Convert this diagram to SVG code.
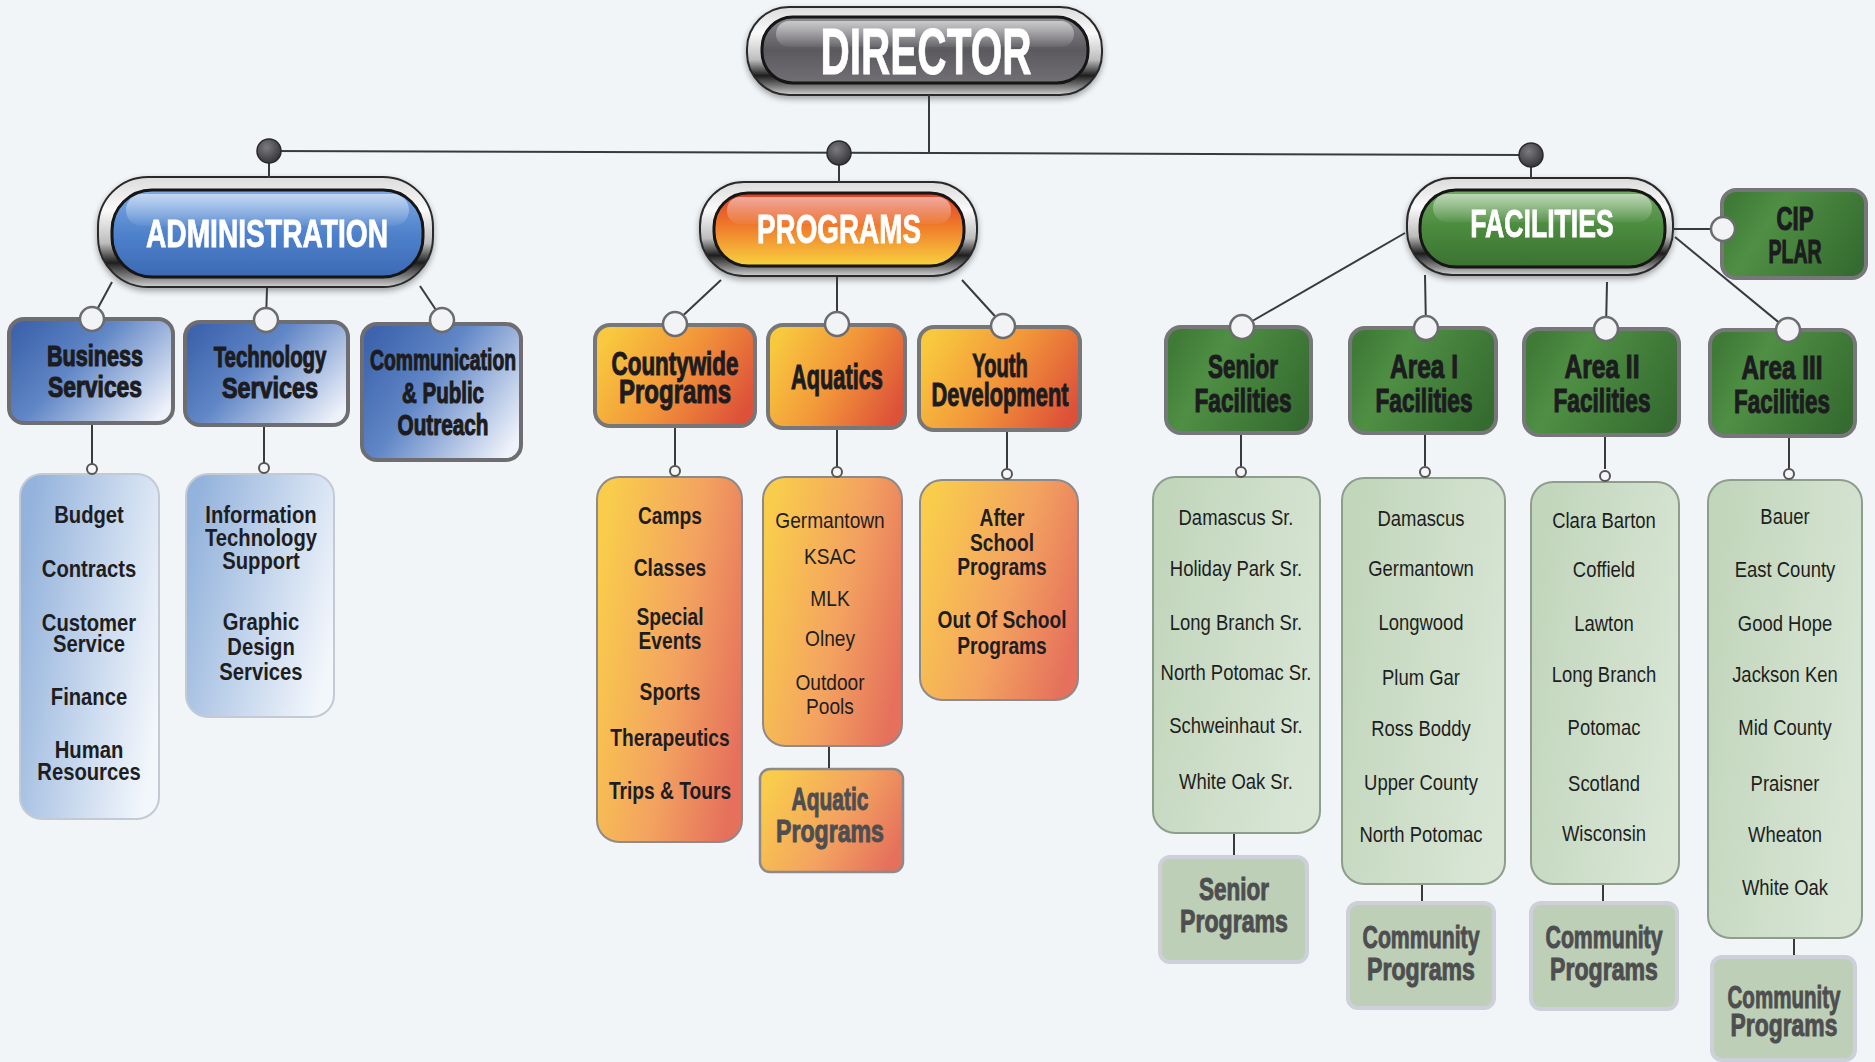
<svg xmlns="http://www.w3.org/2000/svg" width="1875" height="1062" viewBox="0 0 1875 1062">
<defs>
<linearGradient id="chrome" x1="0" y1="0" x2="0" y2="1">
<stop offset="0" stop-color="#dcdcdc"/><stop offset="0.3" stop-color="#fafafa"/><stop offset="0.6" stop-color="#bdbdbd"/><stop offset="0.78" stop-color="#1e1e1e"/><stop offset="0.92" stop-color="#8a8a8a"/><stop offset="1" stop-color="#d2d2d2"/>
</linearGradient>
<linearGradient id="gDir" x1="0" y1="0" x2="0" y2="1">
<stop offset="0" stop-color="#8e8c91"/><stop offset="0.5" stop-color="#5b595e"/><stop offset="1" stop-color="#727075"/>
</linearGradient>
<linearGradient id="gAdm" x1="0" y1="0" x2="0" y2="1">
<stop offset="0" stop-color="#7eaae4"/><stop offset="0.5" stop-color="#4f82cc"/><stop offset="1" stop-color="#3b69b2"/>
</linearGradient>
<linearGradient id="gPrg" x1="0" y1="0" x2="0" y2="1">
<stop offset="0" stop-color="#de3f28"/><stop offset="0.45" stop-color="#ef7a2c"/><stop offset="1" stop-color="#f8d23e"/>
</linearGradient>
<linearGradient id="gFac" x1="0" y1="0" x2="0" y2="1">
<stop offset="0" stop-color="#6ea860"/><stop offset="0.5" stop-color="#4a8a3d"/><stop offset="1" stop-color="#3b7232"/>
</linearGradient>
<linearGradient id="gloss" x1="0" y1="0" x2="0" y2="1">
<stop offset="0" stop-color="#ffffff" stop-opacity="0.55"/><stop offset="1" stop-color="#ffffff" stop-opacity="0.05"/>
</linearGradient>
<linearGradient id="bHead" x1="0" y1="0.2" x2="1" y2="0.8">
<stop offset="0" stop-color="#3d64ad"/><stop offset="0.4" stop-color="#6086c6"/><stop offset="1" stop-color="#eef2fa"/>
</linearGradient>
<linearGradient id="bList" x1="0" y1="0.3" x2="1" y2="0.7">
<stop offset="0" stop-color="#94b3dc"/><stop offset="1" stop-color="#f3f7fc"/>
</linearGradient>
<linearGradient id="oHead" x1="0" y1="0.3" x2="1" y2="0.7">
<stop offset="0" stop-color="#f8c93e"/><stop offset="0.5" stop-color="#f2953a"/><stop offset="1" stop-color="#dd5139"/>
</linearGradient>
<linearGradient id="oList" x1="0" y1="0.3" x2="1" y2="0.7">
<stop offset="0" stop-color="#f9cc4c"/><stop offset="0.55" stop-color="#f3a260"/><stop offset="1" stop-color="#e5705c"/>
</linearGradient>
<linearGradient id="gHead" x1="0" y1="0.3" x2="1" y2="0.7">
<stop offset="0" stop-color="#3f7b37"/><stop offset="0.3" stop-color="#4f8f44"/><stop offset="1" stop-color="#356b30"/>
</linearGradient>
<linearGradient id="gList" x1="0" y1="0.3" x2="1" y2="0.7">
<stop offset="0" stop-color="#c2d6bc"/><stop offset="1" stop-color="#d9e6d6"/>
</linearGradient>
<radialGradient id="dot" cx="0.4" cy="0.35" r="0.7">
<stop offset="0" stop-color="#7a7a80"/><stop offset="1" stop-color="#333336"/>
</radialGradient>
<filter id="sh" x="-10%" y="-10%" width="120%" height="130%">
<feGaussianBlur in="SourceAlpha" stdDeviation="3"/><feOffset dx="0" dy="3"/><feComponentTransfer><feFuncA type="linear" slope="0.35"/></feComponentTransfer><feMerge><feMergeNode/><feMergeNode in="SourceGraphic"/></feMerge>
</filter>
</defs>
<style>
.chrome{fill:url(#chrome);stroke:#2a2a2a;stroke-width:2}
.inner{stroke:#141414;stroke-width:3}
.ptxt{font-family:"Liberation Sans",Arial,sans-serif;font-weight:bold;fill:#ffffff;stroke:#ffffff;stroke-width:0.8;text-anchor:middle}
.hdr{font-family:"Liberation Sans",Arial,sans-serif;font-weight:bold;fill:#1c1c20;stroke:#1c1c20;stroke-width:1.1;text-anchor:middle}
.ghdr{font-family:"Liberation Sans",Arial,sans-serif;font-weight:bold;fill:#4e4e50;stroke:#4e4e50;stroke-width:1;text-anchor:middle}
.lb{font-family:"Liberation Sans",Arial,sans-serif;font-weight:bold;fill:#1e1e22;text-anchor:middle}
.ln{font-family:"Liberation Sans",Arial,sans-serif;font-weight:normal;fill:#1e1e22;text-anchor:middle}
.bh{fill:url(#bHead);stroke:#6e6e72;stroke-width:4}
.bl{fill:url(#bList);stroke:#c3cad4;stroke-width:2}
.oh{fill:url(#oHead);stroke:#77777a;stroke-width:4}
.ol{fill:url(#oList);stroke:#8e8a8c;stroke-width:2}
.op{fill:url(#oList);stroke:#8e8a8c;stroke-width:2.5}
.gh{fill:url(#gHead);stroke:#77777a;stroke-width:4}
.gl{fill:url(#gList);stroke:#8f9d8d;stroke-width:2}
.gp{fill:#bdd0b7;stroke:#cdd0d8;stroke-width:4}
.wire{stroke:#3a3a3c;stroke-width:2;fill:none}
.knob{fill:#f2f3f4;stroke:#6c6c70;stroke-width:2.5}
.sknob{fill:#f6f6f6;stroke:#555558;stroke-width:2}
.dot{fill:url(#dot);stroke:#2a2a2c;stroke-width:1.5}
</style>
<rect x="0" y="0" width="1875" height="1062" fill="#f1f5f8"/>

<g id="nodes">
<g id="director" filter="url(#sh)">
<rect class="chrome" x="747" y="7" width="355" height="88" rx="42"/>
<rect class="inner" x="762" y="17" width="326" height="66" rx="31" fill="url(#gDir)"/>
<rect x="776" y="21" width="298" height="26" rx="13" fill="url(#gloss)"/>
<text class="ptxt" font-size="64" transform="translate(926,74) scale(0.634,1)">DIRECTOR</text>
</g>
<g id="administration" filter="url(#sh)">
<rect class="chrome" x="98" y="177" width="335" height="110" rx="50"/>
<rect class="inner" x="112" y="190" width="311" height="87" rx="40" fill="url(#gAdm)"/>
<rect x="126" y="194" width="283" height="32" rx="16" fill="url(#gloss)"/>
<text class="ptxt" font-size="39" transform="translate(267,247) scale(0.723,1)">ADMINISTRATION</text>
</g>
<g id="programs" filter="url(#sh)">
<rect class="chrome" x="700" y="182" width="277" height="94" rx="44"/>
<rect class="inner" x="714" y="193" width="250" height="73" rx="34" fill="url(#gPrg)"/>
<rect x="727" y="197" width="224" height="27" rx="13" fill="url(#gloss)"/>
<text class="ptxt" font-size="40" transform="translate(839,243) scale(0.696,1)">PROGRAMS</text>
</g>
<g id="facilities" filter="url(#sh)">
<rect class="chrome" x="1407" y="178" width="266" height="97" rx="45"/>
<rect class="inner" x="1420" y="190" width="245" height="77" rx="36" fill="url(#gFac)"/>
<rect x="1433" y="194" width="219" height="28" rx="14" fill="url(#gloss)"/>
<text class="ptxt" font-size="38" transform="translate(1542,237) scale(0.701,1)">FACILITIES</text>
</g>

<g id="cip-plar">
<rect class="gh" x="1722" y="190" width="144" height="88" rx="14"/>
<text class="hdr" font-size="34" transform="translate(1795,230) scale(0.653,1)">CIP</text>
<text class="hdr" font-size="34" transform="translate(1795,263) scale(0.573,1)">PLAR</text>
</g>

<g id="business-services">
<rect class="bh" x="9" y="319" width="164" height="104" rx="15"/>
<text class="hdr" font-size="29" transform="translate(95,366) scale(0.745,1)">Business</text>
<text class="hdr" font-size="29" transform="translate(95,397) scale(0.788,1)">Services</text>
</g>
<g id="technology-services">
<rect class="bh" x="185" y="322" width="163" height="103" rx="15"/>
<text class="hdr" font-size="29" transform="translate(270,367) scale(0.702,1)">Technology</text>
<text class="hdr" font-size="29" transform="translate(270,398) scale(0.805,1)">Services</text>
</g>
<g id="communication">
<rect class="bh" x="362" y="324" width="159" height="136" rx="15"/>
<text class="hdr" font-size="29" transform="translate(443,370) scale(0.667,1)">Communication</text>
<text class="hdr" font-size="29" transform="translate(443,403) scale(0.707,1)">&amp; Public</text>
<text class="hdr" font-size="29" transform="translate(443,435) scale(0.715,1)">Outreach</text>
</g>
<g id="business-list">
<rect class="bl" x="20" y="474" width="139" height="345" rx="22"/>
<g transform="translate(89,0) scale(0.88,1)">
<text class="lb" x="0" y="523" font-size="23">Budget</text>
<text class="lb" x="0" y="577" font-size="23">Contracts</text>
<text class="lb" x="0" y="631" font-size="23">Customer</text>
<text class="lb" x="0" y="652" font-size="23">Service</text>
<text class="lb" x="0" y="705" font-size="23">Finance</text>
<text class="lb" x="0" y="758" font-size="23">Human</text>
<text class="lb" x="0" y="780" font-size="23">Resources</text>
</g>
</g>
<g id="technology-list">
<rect class="bl" x="186" y="474" width="148" height="243" rx="22"/>
<g transform="translate(261,0) scale(0.88,1)">
<text class="lb" x="0" y="523" font-size="23">Information</text>
<text class="lb" x="0" y="546" font-size="23">Technology</text>
<text class="lb" x="0" y="569" font-size="23">Support</text>
<text class="lb" x="0" y="630" font-size="23">Graphic</text>
<text class="lb" x="0" y="655" font-size="23">Design</text>
<text class="lb" x="0" y="680" font-size="23">Services</text>
</g>
</g>

<g id="countywide-programs">
<rect class="oh" x="595" y="325" width="160" height="101" rx="15"/>
<text class="hdr" font-size="34" transform="translate(675,375) scale(0.659,1)">Countywide</text>
<text class="hdr" font-size="34" transform="translate(675,403) scale(0.706,1)">Programs</text>
</g>
<g id="aquatics">
<rect class="oh" x="768" y="325" width="137" height="103" rx="15"/>
<text class="hdr" font-size="35" transform="translate(837,389) scale(0.622,1)">Aquatics</text>
</g>
<g id="youth-development">
<rect class="oh" x="919" y="327" width="161" height="103" rx="15"/>
<text class="hdr" font-size="34" transform="translate(1000,377) scale(0.592,1)">Youth</text>
<text class="hdr" font-size="34" transform="translate(1000,406) scale(0.642,1)">Development</text>
</g>
<g id="countywide-list">
<rect class="ol" x="597" y="477" width="145" height="365" rx="22"/>
<g transform="translate(670,0) scale(0.8,1)">
<text class="lb" x="0" y="524" font-size="24">Camps</text>
<text class="lb" x="0" y="576" font-size="24">Classes</text>
<text class="lb" x="0" y="625" font-size="24">Special</text>
<text class="lb" x="0" y="649" font-size="24">Events</text>
<text class="lb" x="0" y="700" font-size="24">Sports</text>
<text class="lb" x="0" y="746" font-size="24">Therapeutics</text>
<text class="lb" x="0" y="799" font-size="24">Trips &amp; Tours</text>
</g>
</g>
<g id="aquatics-list">
<rect class="ol" x="763" y="477" width="139" height="269" rx="22"/>
<g transform="translate(830,0) scale(0.87,1)">
<text class="ln" x="0" y="528" font-size="22">Germantown</text>
<text class="ln" x="0" y="564" font-size="22">KSAC</text>
<text class="ln" x="0" y="606" font-size="22">MLK</text>
<text class="ln" x="0" y="646" font-size="22">Olney</text>
<text class="ln" x="0" y="690" font-size="22">Outdoor</text>
<text class="ln" x="0" y="714" font-size="22">Pools</text>
</g>
</g>
<g id="aquatic-programs">
<rect class="op" x="760" y="769" width="143" height="103" rx="10"/>
<text class="ghdr" font-size="32" transform="translate(830,810) scale(0.656,1)">Aquatic</text>
<text class="ghdr" font-size="32" transform="translate(830,842) scale(0.723,1)">Programs</text>
</g>
<g id="youth-list">
<rect class="ol" x="920" y="480" width="158" height="220" rx="22"/>
<g transform="translate(1002,0) scale(0.8,1)">
<text class="lb" x="0" y="526" font-size="24">After</text>
<text class="lb" x="0" y="551" font-size="24">School</text>
<text class="lb" x="0" y="575" font-size="24">Programs</text>
<text class="lb" x="0" y="628" font-size="24">Out Of School</text>
<text class="lb" x="0" y="654" font-size="24">Programs</text>
</g>
</g>

<g id="senior-facilities">
<rect class="gh" x="1166" y="327" width="145" height="106" rx="15"/>
<text class="hdr" font-size="34" transform="translate(1243,378) scale(0.662,1)">Senior</text>
<text class="hdr" font-size="34" transform="translate(1243,412) scale(0.667,1)">Facilities</text>
</g>
<g id="area1-facilities">
<rect class="gh" x="1350" y="328" width="146" height="105" rx="15"/>
<text class="hdr" font-size="34" transform="translate(1424,378) scale(0.72,1)">Area I</text>
<text class="hdr" font-size="34" transform="translate(1424,412) scale(0.667,1)">Facilities</text>
</g>
<g id="area2-facilities">
<rect class="gh" x="1524" y="329" width="155" height="106" rx="15"/>
<text class="hdr" font-size="34" transform="translate(1602,378) scale(0.722,1)">Area II</text>
<text class="hdr" font-size="34" transform="translate(1602,412) scale(0.667,1)">Facilities</text>
</g>
<g id="area3-facilities">
<rect class="gh" x="1710" y="330" width="145" height="106" rx="15"/>
<text class="hdr" font-size="34" transform="translate(1782,379) scale(0.714,1)">Area III</text>
<text class="hdr" font-size="34" transform="translate(1782,413) scale(0.66,1)">Facilities</text>
</g>
<g id="senior-list">
<rect class="gl" x="1153" y="477" width="167" height="356" rx="22"/>
<g transform="translate(1236,0) scale(0.84,1)">
<text class="ln" x="0" y="525" font-size="22">Damascus Sr.</text>
<text class="ln" x="0" y="576" font-size="22">Holiday Park Sr.</text>
<text class="ln" x="0" y="630" font-size="22">Long Branch Sr.</text>
<text class="ln" x="0" y="680" font-size="22">North Potomac Sr.</text>
<text class="ln" x="0" y="733" font-size="22">Schweinhaut Sr.</text>
<text class="ln" x="0" y="789" font-size="22">White Oak Sr.</text>
</g>
</g>
<g id="senior-programs">
<rect class="gp" x="1160" y="857" width="147" height="105" rx="10"/>
<text class="ghdr" font-size="32" transform="translate(1234,900) scale(0.703,1)">Senior</text>
<text class="ghdr" font-size="32" transform="translate(1234,932) scale(0.723,1)">Programs</text>
</g>
<g id="area1-list">
<rect class="gl" x="1342" y="478" width="163" height="406" rx="22"/>
<g transform="translate(1421,0) scale(0.84,1)">
<text class="ln" x="0" y="526" font-size="22">Damascus</text>
<text class="ln" x="0" y="576" font-size="22">Germantown</text>
<text class="ln" x="0" y="630" font-size="22">Longwood</text>
<text class="ln" x="0" y="685" font-size="22">Plum Gar</text>
<text class="ln" x="0" y="736" font-size="22">Ross Boddy</text>
<text class="ln" x="0" y="790" font-size="22">Upper County</text>
<text class="ln" x="0" y="842" font-size="22">North Potomac</text>
</g>
</g>
<g id="area1-programs">
<rect class="gp" x="1348" y="903" width="146" height="105" rx="10"/>
<text class="ghdr" font-size="32" transform="translate(1421,948) scale(0.665,1)">Community</text>
<text class="ghdr" font-size="32" transform="translate(1421,980) scale(0.723,1)">Programs</text>
</g>
<g id="area2-list">
<rect class="gl" x="1531" y="482" width="148" height="402" rx="22"/>
<g transform="translate(1604,0) scale(0.84,1)">
<text class="ln" x="0" y="528" font-size="22">Clara Barton</text>
<text class="ln" x="0" y="577" font-size="22">Coffield</text>
<text class="ln" x="0" y="631" font-size="22">Lawton</text>
<text class="ln" x="0" y="682" font-size="22">Long Branch</text>
<text class="ln" x="0" y="735" font-size="22">Potomac</text>
<text class="ln" x="0" y="791" font-size="22">Scotland</text>
<text class="ln" x="0" y="841" font-size="22">Wisconsin</text>
</g>
</g>
<g id="area2-programs">
<rect class="gp" x="1531" y="903" width="146" height="106" rx="10"/>
<text class="ghdr" font-size="32" transform="translate(1604,948) scale(0.665,1)">Community</text>
<text class="ghdr" font-size="32" transform="translate(1604,980) scale(0.723,1)">Programs</text>
</g>
<g id="area3-list">
<rect class="gl" x="1708" y="480" width="154" height="458" rx="22"/>
<g transform="translate(1785,0) scale(0.84,1)">
<text class="ln" x="0" y="524" font-size="22">Bauer</text>
<text class="ln" x="0" y="577" font-size="22">East County</text>
<text class="ln" x="0" y="631" font-size="22">Good Hope</text>
<text class="ln" x="0" y="682" font-size="22">Jackson Ken</text>
<text class="ln" x="0" y="735" font-size="22">Mid County</text>
<text class="ln" x="0" y="791" font-size="22">Praisner</text>
<text class="ln" x="0" y="842" font-size="22">Wheaton</text>
<text class="ln" x="0" y="895" font-size="22">White Oak</text>
</g>
</g>
<g id="area3-programs">
<rect class="gp" x="1712" y="957" width="143" height="103" rx="10"/>
<text class="ghdr" font-size="32" transform="translate(1784,1008) scale(0.642,1)">Community</text>
<text class="ghdr" font-size="32" transform="translate(1784,1036) scale(0.716,1)">Programs</text>
</g>
</g>

<g id="connectors">
<line class="wire" x1="929" y1="95" x2="929" y2="153"/>
<line class="wire" x1="269" y1="151" x2="1531" y2="155" stroke-width="2.5"/>
<line class="wire" x1="269" y1="151" x2="269" y2="178"/>
<line class="wire" x1="839" y1="153" x2="839" y2="182"/>
<line class="wire" x1="1531" y1="155" x2="1531" y2="178"/>
<circle class="dot" cx="269" cy="151" r="12"/>
<circle class="dot" cx="839" cy="153" r="12"/>
<circle class="dot" cx="1531" cy="155" r="12"/>

<line class="wire" x1="112" y1="282" x2="92" y2="319"/>
<line class="wire" x1="267" y1="288" x2="266" y2="320"/>
<line class="wire" x1="420" y1="286" x2="442" y2="319"/>
<circle class="knob" cx="92" cy="319" r="12"/>
<circle class="knob" cx="266" cy="320" r="12"/>
<circle class="knob" cx="442" cy="320" r="12"/>

<line class="wire" x1="721" y1="280" x2="675" y2="323"/>
<line class="wire" x1="837" y1="277" x2="837" y2="323"/>
<line class="wire" x1="962" y1="280" x2="1003" y2="325"/>
<circle class="knob" cx="675" cy="324" r="12"/>
<circle class="knob" cx="837" cy="324" r="12"/>
<circle class="knob" cx="1003" cy="326" r="12"/>

<line class="wire" x1="1405" y1="233" x2="1242" y2="327"/>
<line class="wire" x1="1425" y1="275" x2="1426" y2="328"/>
<line class="wire" x1="1607" y1="282" x2="1606" y2="329"/>
<line class="wire" x1="1675" y1="237" x2="1788" y2="330"/>
<line class="wire" x1="1673" y1="229" x2="1723" y2="229"/>
<circle class="knob" cx="1242" cy="327" r="12"/>
<circle class="knob" cx="1426" cy="328" r="12"/>
<circle class="knob" cx="1606" cy="329" r="12"/>
<circle class="knob" cx="1788" cy="330" r="12"/>
<circle class="knob" cx="1723" cy="229" r="12"/>

<line class="wire" x1="92" y1="425" x2="92" y2="464"/>
<line class="wire" x1="264" y1="427" x2="264" y2="463"/>
<line class="wire" x1="675" y1="428" x2="675" y2="466"/>
<line class="wire" x1="837" y1="430" x2="837" y2="467"/>
<line class="wire" x1="1007" y1="432" x2="1007" y2="469"/>
<line class="wire" x1="1241" y1="435" x2="1241" y2="468"/>
<line class="wire" x1="1425" y1="435" x2="1425" y2="466"/>
<line class="wire" x1="1605" y1="437" x2="1605" y2="469"/>
<line class="wire" x1="1789" y1="438" x2="1789" y2="470"/>
<circle class="sknob" cx="92" cy="469" r="5"/>
<circle class="sknob" cx="264" cy="468" r="5"/>
<circle class="sknob" cx="675" cy="471" r="5"/>
<circle class="sknob" cx="837" cy="472" r="5"/>
<circle class="sknob" cx="1007" cy="474" r="5"/>
<circle class="sknob" cx="1241" cy="472" r="5"/>
<circle class="sknob" cx="1425" cy="472" r="5"/>
<circle class="sknob" cx="1605" cy="476" r="5"/>
<circle class="sknob" cx="1789" cy="474" r="5"/>

<line class="wire" x1="829" y1="747" x2="829" y2="768"/>
<line class="wire" x1="1234" y1="834" x2="1234" y2="855"/>
<line class="wire" x1="1422" y1="885" x2="1422" y2="901"/>
<line class="wire" x1="1603" y1="885" x2="1603" y2="901"/>
<line class="wire" x1="1794" y1="939" x2="1794" y2="955"/>
</g>
</svg>
